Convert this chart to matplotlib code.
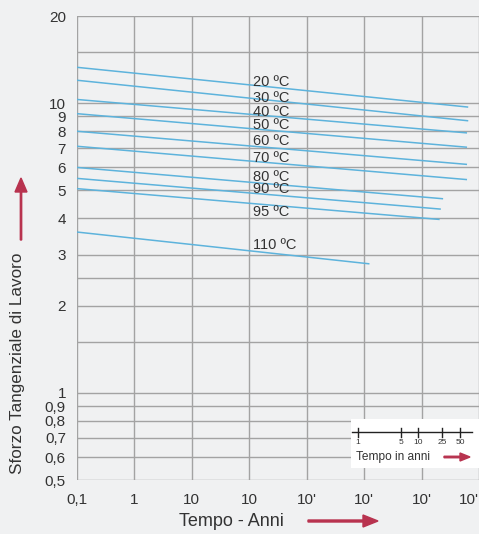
import matplotlib

matplotlib.use("Agg")
import matplotlib.pyplot as plt
from matplotlib.patches import FancyArrow, Rectangle

plt.rcParams["font.family"] = ["Liberation Sans", "DejaVu Sans"]

# Curve data: temperature label, start/end time (years), start/end stress
temps = ["20 ºC", "30 ºC", "40 ºC", "50 ºC", "60 ºC", "70 ºC", "80 ºC", "90 ºC", "95 ºC", "110 ºC"]
t_start = [0.1] * 10
t_end = [6.3e5, 6.3e5, 6.0e5, 6.0e5, 6.0e5, 6.0e5, 2.3e5, 2.1e5, 2.0e5, 1.2e4]
s_start = [13.3, 12.0, 10.3, 9.2, 8.0, 7.1, 6.0, 5.5, 5.07, 3.59]
s_end = [9.7, 8.7, 7.9, 7.05, 6.15, 5.45, 4.68, 4.31, 3.97, 2.79]
label_y = [11.8, 10.45, 9.33, 8.43, 7.38, 6.45, 5.57, 5.04, 4.2, 3.23]

x_ticks = [0.1, 1, 10, 100, 1e3, 1e4, 1e5, 1e6]
x_labels = ["0,1", "1", "10", "10", "10'", "10'", "10'", "10'"]
y_ticks = [0.5, 0.6, 0.7, 0.8, 0.9, 1, 2, 3, 4, 5, 6, 7, 8, 9, 10, 20]
y_labels = ["0,5", "0,6", "0,7", "0,8", "0,9", "1", "2", "3", "4", "5", "6", "7", "8", "9", "10", "20"]
y_extra_grid = [1.5, 2.5, 15]

inset_years = [1, 5, 10, 25, 50]
inset_pos = [358, 401, 418, 442, 460]  # pixel x of inset scale ticks

bg = "#f0f1f2"
grid_c = "#a3a3a3"
line_c = "#5db3dc"
red = "#b8334f"
text_c = "#333333"

W, H = 479, 534
fig = plt.figure(figsize=(W / 100, H / 100), dpi=100, facecolor=bg)
ax = fig.add_axes([77 / W, 1 - 480 / H, 1 - 77 / W, 464 / H], facecolor=bg)
ax.set_xscale("log")
ax.set_yscale("log")
ax.set_xlim(0.1, 1e6)
ax.set_ylim(0.5, 20)

ax.set_xticks(x_ticks)
ax.set_xticklabels(x_labels)
ax.set_yticks(y_ticks)
ax.set_yticklabels(y_labels)
ax.minorticks_off()
ax.tick_params(length=0, labelsize=11, colors=text_c)
ax.tick_params(axis="x", pad=9)
ax.tick_params(axis="y", pad=8)
last = ax.get_xticklabels()[-1]
last.set_horizontalalignment("right")
last.set_x(1e6)

for x in x_ticks:
    ax.axvline(x, color=grid_c, lw=1, zorder=1)
for y in y_ticks + y_extra_grid:
    ax.axhline(y, color=grid_c, lw=1, zorder=1)
for sp in ax.spines.values():
    sp.set_visible(False)

for name, t0, t1, s0, s1, ly in zip(temps, t_start, t_end, s_start, s_end, label_y):
    ax.plot([t0, t1], [s0, s1], color=line_c, lw=1.1, zorder=3)
    ax.text(115, ly, name, fontsize=10.5, color=text_c, va="center", ha="left", zorder=4)

# axis labels and arrows (figure pixel coordinates)
fig.text(18 / W, 1 - 363 / H, "Sforzo Tangenziale di Lavoro", rotation=90,
         fontsize=12.3, color=text_c, ha="center", va="center")
fig.text(231 / W, 1 - 521 / H, "Tempo - Anni", fontsize=13, color=text_c,
         ha="center", va="center")

fig.add_artist(FancyArrow(21 / W, 1 - 240 / H, 0, 62 / H, width=1.5 / H,
                          head_width=12 / W, head_length=14 / H,
                          length_includes_head=True, color=red,
                          transform=fig.transFigure))
fig.add_artist(FancyArrow(308 / W, 1 - 521 / H, 70 / W, 0, width=2 / H,
                          head_width=12 / H, head_length=15 / W,
                          length_includes_head=True, color=red,
                          transform=fig.transFigure))

# inset time scale
fig.add_artist(Rectangle((351 / W, 1 - 468 / H), 128 / W, 49 / H,
                         facecolor="white", edgecolor="none",
                         transform=fig.transFigure, zorder=5))
fig.add_artist(plt.Line2D([352 / W, 472 / W], [1 - 432 / H] * 2, color="#222222",
                          lw=1, transform=fig.transFigure, zorder=6))
for yr, px in zip(inset_years, inset_pos):
    fig.add_artist(plt.Line2D([px / W] * 2, [1 - 428 / H, 1 - 437 / H], color="#222222",
                              lw=1, transform=fig.transFigure, zorder=6))
    fig.text(px / W, 1 - 443 / H, str(yr), fontsize=6, color=text_c,
             ha="center", va="center", zorder=7)
fig.text(356 / W, 1 - 457 / H, "Tempo in anni", fontsize=8.6, color=text_c,
         ha="left", va="center", zorder=7)
fig.add_artist(FancyArrow(444 / W, 1 - 457 / H, 26 / W, 0, width=1.5 / H,
                          head_width=8 / H, head_length=10 / W,
                          length_includes_head=True, color=red,
                          transform=fig.transFigure, zorder=7))

fig.savefig("out.png", dpi=100, facecolor=bg)
